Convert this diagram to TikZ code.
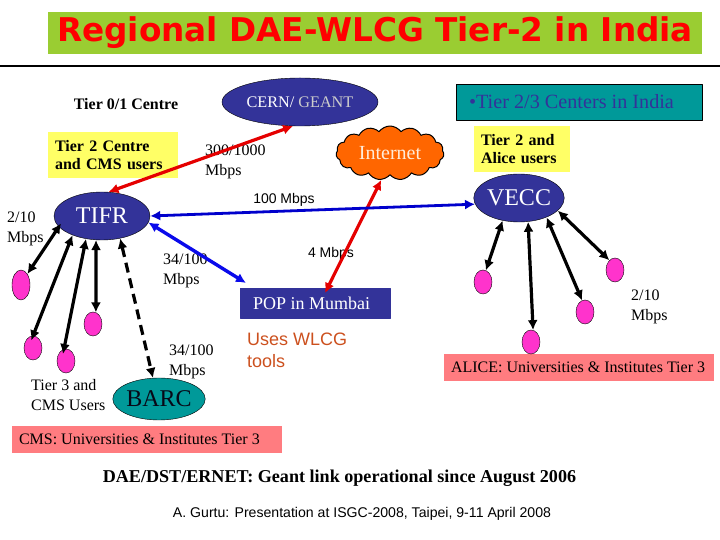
\documentclass[tikz,border=0pt]{standalone}
\usepackage{fontspec}
\setmainfont{Liberation Serif}
\setsansfont{Liberation Sans}
\newfontfamily\titlefont{DejaVu Sans}
\usetikzlibrary{shapes.geometric,shapes.symbols,arrows.meta}
\definecolor{titlegreen}{RGB}{154,205,50}
\definecolor{siteblue}{RGB}{51,51,153}
\definecolor{siteteal}{RGB}{0,153,153}
\definecolor{notepink}{RGB}{255,124,128}
\definecolor{usermagenta}{RGB}{255,51,204}
\definecolor{noteyellow}{RGB}{255,255,102}
\definecolor{cloudorange}{RGB}{255,102,0}
\definecolor{toolrust}{RGB}{204,80,30}
\tikzset{
  lbl/.style={inner sep=0pt,align=left,font=\fontsize{16bp}{20bp}\selectfont},
  lbl_sans/.style={inner sep=0pt,font=\sffamily\fontsize{14bp}{16bp}\selectfont},
  lbl_bold/.style={inner sep=0pt,align=left,font=\bfseries\fontsize{16bp}{18.5bp}\selectfont},
  site/.style={ellipse,draw=black,fill=siteblue,text=white,inner sep=0pt,minimum width=#1},
  user/.style={ellipse,draw=black,fill=usermagenta,inner sep=0pt,minimum width=18bp,minimum height=24bp},
  notebox/.style={lbl_bold,fill=noteyellow,inner xsep=7bp,inner ysep=0pt,text width=#1,minimum height=46bp},
  cmsbox/.style={fill=notepink,inner xsep=7bp,inner ysep=0pt,minimum height=27bp,font=\fontsize{16bp}{18bp}\selectfont},
  link/.style={{Latex[length=10bp,width=10bp]}-{Latex[length=10bp,width=10bp]},black,line width=3.2bp},
  redlink/.style={link,red!90!black},
  bluelink/.style={link,line width=2.8bp},
}
\begin{document}
\begin{tikzpicture}[line join=bevel,]
\useasboundingbox (0bp,0bp) rectangle (720bp,540bp);
%% title
\node (node_title) at (375bp,507bp) [fill=titlegreen,minimum width=654bp,minimum height=42bp,inner sep=0pt,text=red,font=\titlefont\bfseries\fontsize{32.7bp}{36bp}\selectfont] {Regional DAE-WLCG Tier-2 in India};
\coordinate (rule_l) at (0bp,474bp);
\coordinate (rule_r) at (720bp,474bp);
\draw [black,line width=2bp] (rule_l) -- (rule_r);
%% sites
\node (node_cern) at (300bp,438bp) [site=156bp,minimum height=48bp,font=\fontsize{16.2bp}{18bp}\selectfont] {CERN/ \textcolor{black!20}{GEANT}};
\node (node_tifr) at (102bp,324bp) [site=96bp,minimum height=48bp,font=\fontsize{24bp}{26bp}\selectfont] {TIFR};
\node (node_vecc) at (519bp,342bp) [site=90bp,minimum height=48bp,font=\fontsize{24bp}{26bp}\selectfont] {VECC};
\node (node_barc) at (159bp,141bp) [site=90bp,minimum height=42bp,fill=siteteal,text=black!85!siteblue,font=\fontsize{24bp}{26bp}\selectfont] {BARC};
\node (node_net) at (390bp,387bp) [cloud,cloud puffs=15,cloud puff arc=110,aspect=2.2,draw=black,line width=1bp,fill=cloudorange,inner sep=0pt,minimum width=108bp,minimum height=54bp,text=orange!15,font=\fontsize{20bp}{22bp}\selectfont] {Internet};
\node (node_pop) at (315bp,237bp) [draw=siteblue,fill=siteblue,text=white,inner xsep=13bp,inner ysep=0pt,minimum height=30bp,font=\fontsize{18bp}{20bp}\selectfont] {\makebox[124bp][l]{POP in Mumbai}};
%% boxes
\node (node_t23) at (579bp,438bp) [draw=black,fill=siteteal,text=siteblue,inner xsep=13bp,inner ysep=0pt,minimum height=36bp,font=\fontsize{20.2bp}{22bp}\selectfont] {\makebox[220bp][l]{•Tier 2/3 Centers in India}};
\node (node_t2) at (113bp,385bp) [notebox=116bp] {Tier 2 Centre\\and CMS users};
\node (node_t2a) at (522bp,391bp) [notebox=82bp] {Tier 2 and\\Alice users};
\node (node_cms) at (147bp,100.5bp) [cmsbox] {\makebox[256bp][l]{CMS: Universities \& Institutes Tier 3}};
\node (node_alice) at (579bp,172.5bp) [cmsbox] {\makebox[256bp][l]{ALICE: Universities \& Institutes Tier 3}};
%% users
\node (node_u1) at (21bp,255bp) [user,minimum height=30bp] {};
\node (node_u2) at (33bp,192bp) [user] {};
\node (node_u3) at (66bp,179bp) [user] {};
\node (node_u4) at (93bp,216bp) [user] {};
\node (node_u5) at (483bp,258bp) [user] {};
\node (node_u6) at (531bp,198bp) [user] {};
\node (node_u7) at (585bp,228bp) [user] {};
\node (node_u8) at (615bp,270bp) [user] {};
%% labels
\node (node_tier01) at (126bp,436bp) [lbl_bold] {Tier 0/1 Centre};
\node (node_r300) at (205bp,378bp) [lbl,anchor=west] {300/1000\\Mbps};
\node (node_r100) at (284bp,340bp) [lbl_sans] {100 Mbps};
\node (node_r4) at (331bp,286bp) [lbl_sans] {4 Mbps};
\node (node_r2l) at (7bp,311bp) [lbl,anchor=west] {2/10\\Mbps};
\node (node_r34a) at (163bp,269bp) [lbl,anchor=west] {34/100\\Mbps};
\node (node_r34b) at (169bp,178bp) [lbl,anchor=west] {34/100\\Mbps};
\node (node_r2r) at (631bp,233bp) [lbl,anchor=west] {2/10\\Mbps};
\node (node_t3) at (31bp,144.5bp) [lbl,anchor=west] {Tier 3 and\\CMS Users};
\node (node_tools) at (247bp,190bp) [anchor=west,inner sep=0pt,align=left,text=toolrust,font=\sffamily\fontsize{18bp}{22bp}\selectfont] {Uses WLCG\\tools};
\node (node_geant) at (339.5bp,62bp) [inner sep=0pt,font=\bfseries\fontsize{18.1bp}{20bp}\selectfont] {DAE/DST/ERNET: Geant link operational since August 2006};
\node (node_talk) at (362bp,26bp) [inner sep=0pt,font=\sffamily\fontsize{14.1bp}{16bp}\selectfont] {A. Gurtu: Presentation at ISGC-2008, Taipei, 9-11 April 2008};
%% links
\coordinate (pop_red) at (325bp,247bp);
\coordinate (pop_blue) at (246bp,257bp);
\draw [redlink] (node_cern.254) -- (node_tifr.75);
\draw [redlink] (node_net.252) -- (pop_red);
\draw [bluelink,blue!80!black] (node_tifr.east) -- (node_vecc.188);
\draw [bluelink,blue!80!siteblue,line width=3.4bp] (node_tifr.352) -- (pop_blue);
\draw [link,shorten <=-4bp] (node_tifr.194) -- (node_u1.60);
\draw [link,shorten >=-5bp] (node_tifr.213) -- (node_u2.90);
\draw [link,shorten >=-5bp] (node_tifr.235) -- (node_u3.100);
\draw [link] (node_tifr.256) -- (node_u4.76);
\draw [link,dash pattern=on 10bp off 6bp] (node_tifr.309) -- (node_barc.106);
\draw [link] (node_vecc.234) -- (node_u5.76);
\draw [link] (node_vecc.291) -- (node_u6.80);
\draw [link] (node_vecc.325) -- (node_u7.104);
\draw [link] (node_vecc.342) -- (node_u8.120);
%
\end{tikzpicture}
\end{document}
